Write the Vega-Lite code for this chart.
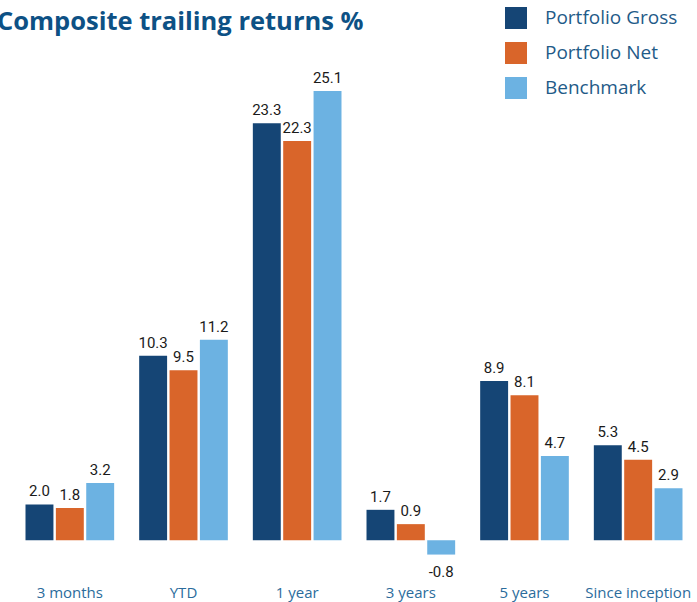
{
  "$schema": "https://vega.github.io/schema/vega-lite/v6.json",
  "width": 682,
  "height": 546,
  "autosize": {"type": "none"},
  "padding": {"left": 13, "top": 39, "right": 2, "bottom": 17},
  "background": "white",
  "title": {
    "text": "Composite trailing returns %",
    "anchor": "start",
    "dx": -16,
    "offset": -28,
    "font": "Open Sans",
    "fontSize": 25.5,
    "fontWeight": "bold",
    "color": "#0d5185"
  },
  "data": {
    "values": [
      {"period": "3 months", "series": "Portfolio Gross", "value": 2.0},
      {"period": "3 months", "series": "Portfolio Net", "value": 1.8},
      {"period": "3 months", "series": "Benchmark", "value": 3.2},
      {"period": "YTD", "series": "Portfolio Gross", "value": 10.3},
      {"period": "YTD", "series": "Portfolio Net", "value": 9.5},
      {"period": "YTD", "series": "Benchmark", "value": 11.2},
      {"period": "1 year", "series": "Portfolio Gross", "value": 23.3},
      {"period": "1 year", "series": "Portfolio Net", "value": 22.3},
      {"period": "1 year", "series": "Benchmark", "value": 25.1},
      {"period": "3 years", "series": "Portfolio Gross", "value": 1.7},
      {"period": "3 years", "series": "Portfolio Net", "value": 0.9},
      {"period": "3 years", "series": "Benchmark", "value": -0.8},
      {"period": "5 years", "series": "Portfolio Gross", "value": 8.9},
      {"period": "5 years", "series": "Portfolio Net", "value": 8.1},
      {"period": "5 years", "series": "Benchmark", "value": 4.7},
      {"period": "Since inception", "series": "Portfolio Gross", "value": 5.3},
      {"period": "Since inception", "series": "Portfolio Net", "value": 4.5},
      {"period": "Since inception", "series": "Benchmark", "value": 2.9}
    ]
  },
  "transform": [
    {"calculate": "replace(format(datum.value, '.1f'), '\u2212', '-')", "as": "label"}
  ],
  "encoding": {
    "x": {
      "field": "period",
      "type": "nominal",
      "sort": ["3 months", "YTD", "1 year", "3 years", "5 years", "Since inception"],
      "scale": {"paddingInner": 0.22, "paddingOuter": 0.11},
      "axis": {
        "title": null,
        "domain": false,
        "ticks": false,
        "labelAngle": 0,
        "labelPadding": 0,
        "labelFont": "Open Sans",
        "labelFontSize": 15,
        "labelColor": "#2b6c9c"
      }
    },
    "xOffset": {
      "field": "series",
      "type": "nominal",
      "sort": ["Portfolio Gross", "Portfolio Net", "Benchmark"],
      "scale": {"paddingInner": 0.08}
    },
    "y": {
      "field": "value",
      "type": "quantitative",
      "scale": {"domain": [-2.5, 28], "nice": false},
      "axis": null
    }
  },
  "layer": [
    {
      "mark": {"type": "bar"},
      "encoding": {
        "color": {
          "field": "series",
          "type": "nominal",
          "sort": ["Portfolio Gross", "Portfolio Net", "Benchmark"],
          "scale": {
            "domain": ["Portfolio Gross", "Portfolio Net", "Benchmark"],
            "range": ["#154575", "#d9652a", "#6cb2e2"]
          },
          "legend": {
            "title": null,
            "orient": "none",
            "legendX": 492,
            "legendY": -32,
            "padding": 0,
            "symbolType": "square",
            "symbolSize": 484,
            "symbolStrokeWidth": 0,
            "symbolOpacity": 1,
            "labelFont": "Open Sans",
            "labelFontSize": 19,
            "labelColor": "#1f5b88",
            "labelOffset": 18,
            "rowPadding": 13,
            "labelLimit": 300
          }
        }
      }
    },
    {
      "transform": [{"filter": "datum.value >= 0"}],
      "mark": {"type": "text", "baseline": "alphabetic", "dy": -8, "font": "Roboto", "fontSize": 15, "color": "#1a1a1a"},
      "encoding": {"text": {"field": "label", "type": "nominal"}}
    },
    {
      "transform": [{"filter": "datum.value < 0"}],
      "mark": {"type": "text", "baseline": "top", "dy": 10, "font": "Roboto", "fontSize": 15, "color": "#1a1a1a"},
      "encoding": {"text": {"field": "label", "type": "nominal"}}
    },
    {
      "mark": {"type": "rule", "color": "#5b6e8c", "strokeWidth": 2},
      "encoding": {"y": {"datum": 0}}
    }
  ],
  "config": {
    "view": {"stroke": null}
  }
}
